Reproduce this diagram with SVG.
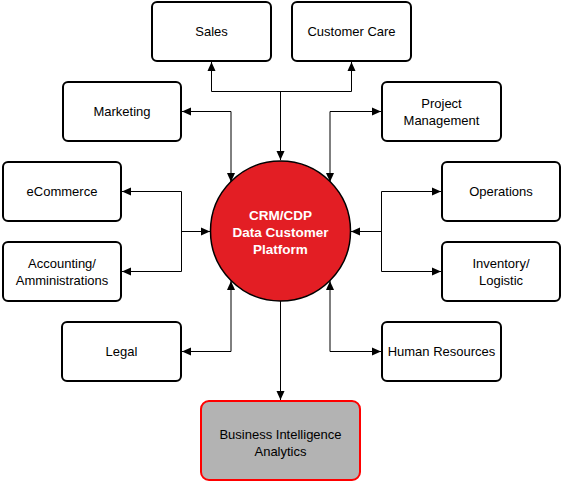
<svg xmlns="http://www.w3.org/2000/svg" width="562" height="482" viewBox="0 0 562 482">
<style>
.box{fill:#fff;stroke:#000;stroke-width:2}
.lbl{font-family:"Liberation Sans",Arial,sans-serif;font-size:13px;fill:#000;text-anchor:middle}
.hub{font-family:"Liberation Sans",Arial,sans-serif;font-size:13.5px;font-weight:bold;fill:#fff;text-anchor:middle}
.con{fill:none;stroke:#000;stroke-width:1}
</style>
<defs>
<marker id="ah" markerUnits="userSpaceOnUse" markerWidth="10" markerHeight="10" refX="9" refY="4" orient="auto-start-reverse" viewBox="0 0 10 8">
<path d="M0,0 L9,4 L0,8 z" fill="#000"/>
</marker>
</defs>
<rect width="562" height="482" fill="#fff"/>
<g id="connectors">
<path class="con" d="M211.5,62 V91.5 H351.5 V62" marker-start="url(#ah)" marker-end="url(#ah)"/>
<path class="con" d="M280.5,91.5 V160" marker-end="url(#ah)"/>
<path class="con" d="M182,111.5 H231 V182" marker-start="url(#ah)" marker-end="url(#ah)"/>
<path class="con" d="M381,111.5 H330 V182" marker-start="url(#ah)" marker-end="url(#ah)"/>
<path class="con" d="M122,191.5 H181.5 V271.5 H122" marker-start="url(#ah)" marker-end="url(#ah)"/>
<path class="con" d="M181.5,231.5 H210" marker-end="url(#ah)"/>
<path class="con" d="M441,191.5 H381.5 V271.5 H441" marker-start="url(#ah)" marker-end="url(#ah)"/>
<path class="con" d="M381.5,231.5 H351" marker-end="url(#ah)"/>
<path class="con" d="M182,351.5 H231 V281" marker-start="url(#ah)" marker-end="url(#ah)"/>
<path class="con" d="M381,351.5 H330 V281" marker-start="url(#ah)" marker-end="url(#ah)"/>
<path class="con" d="M280.5,301 V400" marker-end="url(#ah)"/>
</g>
<g id="sales"><rect class="box" x="152" y="2" width="119" height="59" rx="5"/><text class="lbl" x="211.5" y="36">Sales</text></g>
<g id="customer-care"><rect class="box" x="292" y="2" width="119" height="59" rx="5"/><text class="lbl" x="351.5" y="36">Customer Care</text></g>
<g id="marketing"><rect class="box" x="63" y="82" width="118" height="59" rx="5"/><text class="lbl" x="122" y="116">Marketing</text></g>
<g id="project-management"><rect class="box" x="382" y="82" width="119" height="59" rx="5"/><text class="lbl" x="441.5" y="108">Project</text><text class="lbl" x="441.5" y="125">Management</text></g>
<g id="ecommerce"><rect class="box" x="3" y="162" width="118" height="59" rx="5"/><text class="lbl" x="62" y="196">eCommerce</text></g>
<g id="accounting"><rect class="box" x="3" y="242" width="118" height="59" rx="5"/><text class="lbl" x="62" y="268">Accounting/</text><text class="lbl" x="62" y="285">Amministrations</text></g>
<g id="legal"><rect class="box" x="62" y="322" width="119" height="59" rx="5"/><text class="lbl" x="121.5" y="356">Legal</text></g>
<g id="operations"><rect class="box" x="442" y="162" width="118" height="59" rx="5"/><text class="lbl" x="501" y="196">Operations</text></g>
<g id="inventory"><rect class="box" x="442" y="242" width="118" height="59" rx="5"/><text class="lbl" x="501" y="268">Inventory/</text><text class="lbl" x="501" y="285">Logistic</text></g>
<g id="human-resources"><rect class="box" x="382" y="322" width="119" height="59" rx="5"/><text class="lbl" x="441.5" y="356">Human Resources</text></g>
<g id="crm-hub"><circle cx="280.5" cy="231" r="70" fill="#e31e24" stroke="#000" stroke-width="1.5"/><text class="hub" x="280.5" y="220">CRM/CDP</text><text class="hub" x="280.5" y="237">Data Customer</text><text class="hub" x="280.5" y="254">Platform</text></g>
<g id="business-intelligence"><rect x="201" y="401" width="159" height="79" rx="8" fill="#b3b3b3" stroke="#ff0000" stroke-width="2"/><text class="lbl" x="280.5" y="439">Business Intelligence</text><text class="lbl" x="280.5" y="456">Analytics</text></g>
</svg>
